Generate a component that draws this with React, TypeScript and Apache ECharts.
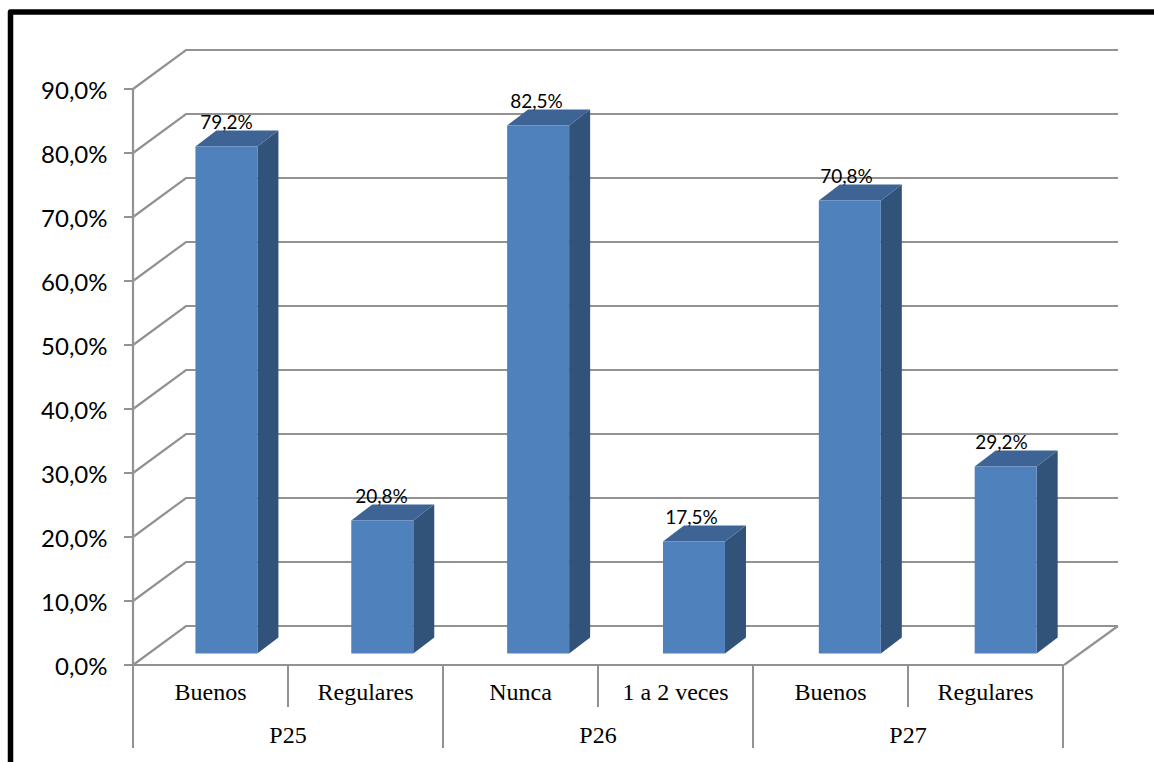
import React, { useEffect, useRef } from "react";
import * as echarts from "echarts";

const categories = ["Buenos", "Regulares", "Nunca", "1 a 2 veces", "Buenos", "Regulares"];
const groups = ["P25", "P26", "P27"];
const percentages = [79.2, 20.8, 82.5, 17.5, 70.8, 29.2];
const gridValues = [0, 10, 20, 30, 40, 50, 60, 70, 80, 90];

const AXIS_GREY = "#929292";
const FRONT_BLUE = "#4F81BD";
const TOP_BLUE = "#3D6495";
const SIDE_BLUE = "#325379";

// Pseudo-3D offsets: how far the back wall and the bars sit from the front plane.
const WALL_DX = 53;
const WALL_DX_RIGHT = 55;
const WALL_DY = -39;
const BAR_SHIFT_X = 15.5;
const BAR_SHIFT_Y = -11.5;
const BAR_SPREAD = 155.85 / 155; // the bar row is slightly wider than the front plane
const BAR_WIDTH = 62;
const BAR_DX = 21;
const BAR_DY = -16;
const LABEL_SHIFT_X = 16;

const formatPercent = (v: number) => v.toFixed(1).replace(".", ",") + "%";

function renderWall(params: any, api: any) {
  const cs = params.coordSys;
  const y = api.coord([0, api.value(1)])[1];
  const line = { stroke: AXIS_GREY, lineWidth: 2.2, fill: "none" };
  const children: any[] = [
    {
      type: "polyline",
      shape: {
        points: [
          [cs.x, y],
          [cs.x + WALL_DX, y + WALL_DY],
          [cs.x + cs.width + WALL_DX_RIGHT, y + WALL_DY],
        ],
      },
      style: line,
    },
  ];
  if (api.value(1) === 0) {
    children.push({
      type: "line",
      shape: {
        x1: cs.x + cs.width + 1,
        y1: y,
        x2: cs.x + cs.width + WALL_DX_RIGHT,
        y2: y + WALL_DY,
      },
      style: line,
    });
  }
  return { type: "group", children };
}

function renderBar(params: any, api: any) {
  const value = api.value(1);
  const [cx, top] = api.coord([api.value(0), value]);
  const base = api.coord([api.value(0), 0])[1];
  const left = params.coordSys.x;
  const x0 = left + (cx - left) * BAR_SPREAD + BAR_SHIFT_X - BAR_WIDTH / 2;
  const x1 = x0 + BAR_WIDTH;
  const y0 = top + BAR_SHIFT_Y;
  const y1 = base + BAR_SHIFT_Y;
  return {
    type: "group",
    children: [
      {
        type: "polygon",
        shape: {
          points: [
            [x1, y0],
            [x1 + BAR_DX, y0 + BAR_DY],
            [x1 + BAR_DX, y1 + BAR_DY],
            [x1, y1],
          ],
        },
        style: { fill: SIDE_BLUE },
      },
      {
        type: "polygon",
        shape: {
          points: [
            [x0, y0],
            [x0 + BAR_DX, y0 + BAR_DY],
            [x1 + BAR_DX, y0 + BAR_DY],
            [x1, y0],
          ],
        },
        style: { fill: TOP_BLUE },
      },
      {
        type: "rect",
        shape: { x: x0, y: y0, width: BAR_WIDTH, height: y1 - y0 },
        style: { fill: FRONT_BLUE },
      },
      {
        type: "text",
        style: {
          x: cx + LABEL_SHIFT_X,
          y: y0 - 25,
          text: formatPercent(value),
          fill: "#000",
          font: '19px Lato, "Open Sans", sans-serif',
          align: "center",
          verticalAlign: "middle",
        },
      },
    ],
  };
}

export default function App() {
  const ref = useRef<HTMLDivElement>(null);

  useEffect(() => {
    const chart = echarts.init(ref.current!, undefined, { renderer: "svg" });
    chart.setOption({
      animation: false,
      backgroundColor: "#fff",
      grid: { left: 133, top: 89, width: 930, height: 576, containLabel: false },
      xAxis: [
        {
          type: "category",
          data: categories,
          position: "bottom",
          axisLine: { lineStyle: { color: AXIS_GREY, width: 2.2 } },
          axisTick: { show: true, length: 42, lineStyle: { color: AXIS_GREY, width: 2 } },
          axisLabel: {
            interval: 0,
            margin: 15,
            color: "#000",
            fontFamily: '"Liberation Serif", serif',
            fontSize: 24,
          },
        },
        {
          type: "category",
          data: groups,
          position: "bottom",
          axisLine: { show: false },
          axisTick: { show: true, length: 83, lineStyle: { color: AXIS_GREY, width: 2 } },
          axisLabel: {
            interval: 0,
            margin: 58,
            color: "#000",
            fontFamily: '"Liberation Serif", serif',
            fontSize: 24,
          },
        },
      ],
      yAxis: {
        type: "value",
        min: 0,
        max: 90,
        interval: 10,
        axisLine: { show: true, lineStyle: { color: AXIS_GREY, width: 2.2 } },
        axisTick: { show: true, length: 9, lineStyle: { color: AXIS_GREY, width: 2 } },
        splitLine: { show: false },
        axisLabel: {
          margin: 25.5,
          color: "#000",
          fontFamily: 'Lato, "Open Sans", sans-serif',
          fontSize: 24,
          padding: [2, 0, 0, 0],
          formatter: (v: number) => formatPercent(v),
        },
      },
      series: [
        {
          type: "custom",
          silent: true,
          renderItem: renderWall,
          encode: { x: 0, y: 1 },
          data: gridValues.map((v) => [0, v]),
          z: 1,
        },
        {
          type: "custom",
          silent: true,
          renderItem: renderBar,
          encode: { x: 0, y: 1 },
          data: percentages.map((v, i) => [i, v]),
          z: 2,
        },
      ],
      graphic: [
        {
          type: "polyline",
          silent: true,
          z: 10,
          shape: {
            points: [
              [10.5, 762],
              [10.5, 12],
              [1154, 12],
            ],
          },
          style: { stroke: "#000", lineWidth: 5.5, fill: "none", lineJoin: "round" },
        },
      ],
    });
    return () => chart.dispose();
  }, []);

  return (
    <div
      ref={ref}
      style={{ position: "fixed", left: 0, top: 0, width: 1154, height: 762 }}
    />
  );
}
